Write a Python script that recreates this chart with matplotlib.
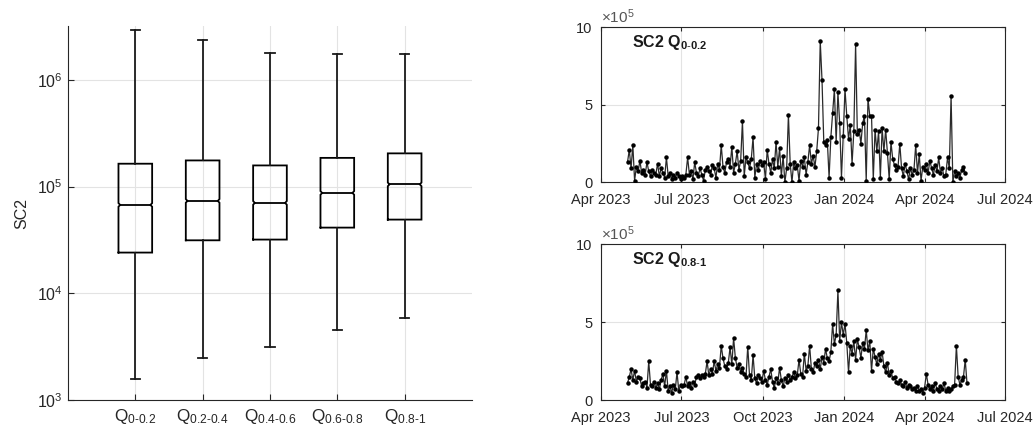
import numpy as np
import pandas as pd
import matplotlib
matplotlib.use('Agg')
import matplotlib.pyplot as plt
import matplotlib.dates as mdates
from matplotlib.ticker import FixedLocator, NullLocator

plt.rcParams['font.family'] = ['Liberation Sans', 'DejaVu Sans']
plt.rcParams['mathtext.fontset'] = 'custom'
plt.rcParams['mathtext.rm'] = 'Liberation Sans'
plt.rcParams['mathtext.it'] = 'Liberation Sans:italic'
plt.rcParams['mathtext.bf'] = 'Liberation Sans:bold'

# ---------------- data ----------------
group_labels = ['0-0.2', '0.2-0.4', '0.4-0.6', '0.6-0.8', '0.8-1']
whisker_lo = [1.56e3, 2.46e3, 3.16e3, 4.5e3, 5.9e3]
box_q1 = [2.41e4, 3.14e4, 3.19e4, 4.13e4, 4.91e4]
box_median = [6.74e4, 7.35e4, 7.04e4, 8.73e4, 1.05e5]
box_q3 = [1.64e5, 1.76e5, 1.58e5, 1.86e5, 2.05e5]
whisker_hi = [2.92e6, 2.37e6, 1.78e6, 1.74e6, 1.74e6]

series_start = '2023-05-01'   # sampled every 2 days
# SC2 Q0-0.2 (x 1e5)
q_low_vals = (
    [1.3, 2.1, 0.9, 2.4, 0.1, 1.0, 0.7, 1.4, 0.6, 0.8, 0.5, 1.3, 0.7, 0.4, 0.8, 0.6] +
    [0.5, 1.2, 0.4, 0.9, 0.6, 0.3, 1.6, 0.4, 0.6, 0.2, 0.5, 0.3, 0.6, 0.4, 0.2] +
    [0.4, 0.3, 0.5, 1.6, 0.5, 0.7, 0.2, 1.3, 0.6, 0.4, 0.9, 0.5, 0.1, 0.8, 1.0] +
    [0.7, 0.5, 1.1, 0.9, 0.3, 1.2, 0.8, 2.4, 1.0, 0.6, 1.3, 1.5, 1.0, 2.3, 0.6, 1.2] +
    [2.0, 0.8, 1.4, 3.95, 0.4, 1.6, 1.3, 0.9, 1.5, 2.9, 0.3, 1.2, 0.8, 1.4, 1.1] +
    [1.3, 0.2, 2.1, 1.2, 0.6, 1.5, 0.9, 2.6, 1.0, 2.2, 0.4, 1.7, 0.0, 0.9, 4.35] +
    [1.2, 0.0, 1.3, 0.9, 1.1, 0.1, 1.4, 1.0, 1.6, 0.5, 1.3, 2.4, 1.2, 1.7, 1.0] +
    [2.0, 3.5, 9.1, 6.6, 2.6, 2.4, 2.7, 0.3, 2.9, 4.5, 6.0, 2.6, 5.8, 3.8, 0.3, 3.0] +
    [6.0, 4.3, 2.8, 3.7, 1.2, 3.3, 8.9, 3.1, 3.4, 2.5, 3.8, 4.3, 0.1, 5.4, 4.3] +
    [4.3, 0.2, 3.4, 2.0, 3.3, 0.3, 3.5, 2.0, 3.4, 1.9, 0.2, 2.6, 1.5, 1.1, 0.8] +
    [1.0, 2.5, 0.9, 0.4, 1.2, 0.7, 0.2, 0.9, 0.5, 0.8, 2.4, 0.6, 1.8, 0.1, 1.0] +
    [0.8, 1.2, 0.6, 1.4, 0.9, 0.5, 1.1, 0.7, 1.6, 0.6, 0.9, 0.4, 0.5, 1.6, 0.9] +
    [5.6, 0.0, 0.7, 0.4, 0.6, 0.3, 0.8, 1.0, 0.6]
)
# SC2 Q0.8-1 (x 1e5)
q_high_vals = (
    [1.1, 1.5, 2.0, 1.3, 1.9, 1.2, 1.5, 1.4, 0.9, 1.1, 1.2, 0.8, 2.5, 1.0, 0.9, 1.2] +
    [0.8, 1.1, 0.7, 1.3, 1.7, 0.9, 1.9, 0.6, 0.9, 0.5, 1.0, 0.7, 1.8, 0.6, 1.0] +
    [0.9, 1.0, 1.5, 0.9, 1.1, 0.8, 1.2, 1.0, 1.5, 1.6, 1.4, 1.6, 1.5, 1.7, 2.5] +
    [1.6, 2.0, 1.7, 2.5, 1.9, 2.3, 2.1, 3.5, 2.7, 2.2, 2.0, 2.4, 3.4, 2.3, 4.0, 2.7] +
    [2.1, 2.3, 1.8, 2.1, 1.7, 1.5, 3.45, 1.6, 1.3, 2.9, 1.4, 1.1, 1.6, 1.4, 1.2] +
    [1.9, 1.3, 1.0, 1.5, 2.0, 1.2, 0.8, 1.4, 1.1, 2.1, 1.3, 0.9, 1.4, 1.2, 1.6] +
    [1.3, 1.5, 1.8, 1.4, 1.6, 2.6, 1.7, 1.5, 3.0, 1.9, 2.2, 3.5, 2.0, 1.8, 2.4] +
    [2.2, 2.6, 2.0, 2.8, 2.4, 3.3, 2.7, 2.5, 3.1, 4.9, 3.6, 4.2, 7.05, 3.8, 5.0, 4.2] +
    [4.9, 3.7, 1.8, 3.5, 3.0, 3.8, 2.6, 3.9, 3.4, 2.7, 3.7, 3.3, 4.5, 3.2, 3.8] +
    [1.9, 3.3, 2.8, 2.3, 3.0, 2.6, 3.1, 2.2, 1.8, 2.4, 1.6, 1.9, 1.4, 1.5, 1.2] +
    [1.1, 1.3, 1.0, 0.9, 1.2, 0.8, 1.0, 0.9, 0.7, 0.8, 0.6, 0.9, 0.6, 0.7, 0.5] +
    [0.8, 1.7, 1.0, 0.7, 0.9, 0.6, 1.1, 0.7, 0.6, 0.9, 0.7, 1.1, 0.6, 0.8, 0.6] +
    [0.7, 0.9, 1.0, 3.5, 1.5, 1.0, 1.3, 1.5, 2.6, 1.1]
)
quarter_ticks = ['2023-04-01', '2023-07-01', '2023-10-01', '2024-01-01',
                 '2024-04-01', '2024-07-01']

# ---------------- style ----------------
TXT = '#262626'
GRID = '#e3e3e3'
FS = 10.5

fig = plt.figure(figsize=(10.33, 4.34), dpi=100)

# ---------------- left: box plot ----------------
axL = fig.add_axes([0.0658, 0.0783, 0.3911, 0.8617])
axL.set_yscale('log')
half_w = 0.25
cap_w = 0.068
notch_f = 1.04
notch_d = 0.025
for i in range(len(group_labels)):
    p = i + 1
    lo, a, m, b, hi = whisker_lo[i], box_q1[i], box_median[i], box_q3[i], whisker_hi[i]
    xs = [p - half_w, p + half_w, p + half_w, p + half_w - notch_d, p + half_w,
          p + half_w, p - half_w, p - half_w, p - half_w + notch_d, p - half_w, p - half_w]
    ys = [a, a, m / notch_f, m, m * notch_f, b, b, m * notch_f, m, m / notch_f, a]
    axL.plot(xs, ys, color='k', lw=1.3, solid_joinstyle='miter', zorder=3)
    axL.plot([p - half_w + notch_d, p + half_w - notch_d], [m, m], color='k', lw=1.3, zorder=3)
    axL.plot([p, p], [b, hi], color='#1a1a1a', lw=1.3, zorder=3)
    axL.plot([p, p], [lo, a], color='#1a1a1a', lw=1.3, zorder=3)
    axL.plot([p - cap_w, p + cap_w], [hi, hi], color='#1a1a1a', lw=1.3, zorder=3)
    axL.plot([p - cap_w, p + cap_w], [lo, lo], color='#1a1a1a', lw=1.3, zorder=3)

axL.set_xlim(0, 6)
axL.set_ylim(1e3, 3.2e6)
axL.xaxis.set_major_locator(FixedLocator(range(1, len(group_labels) + 1)))
axL.set_xticklabels([r'$\mathregular{Q_{%s}}$' % g.replace('-', r'\text{-}') for g in group_labels],
                    fontsize=FS + 1.8, color=TXT)
axL.yaxis.set_major_locator(FixedLocator([1e3, 1e4, 1e5, 1e6]))
axL.yaxis.set_minor_locator(NullLocator())
axL.set_yticklabels([r'$\mathregular{10^{%d}}$' % k for k in [3, 4, 5, 6]], fontsize=FS + 1, color=TXT)
axL.set_ylabel('SC2', fontsize=FS + 1, color=TXT, labelpad=6)
axL.grid(True, color=GRID, lw=0.8, zorder=0)
axL.set_axisbelow(True)
for s in ['top', 'right']:
    axL.spines[s].set_visible(False)
for s in ['left', 'bottom']:
    axL.spines[s].set_color(TXT)
    axL.spines[s].set_linewidth(0.8)
axL.tick_params(direction='in', length=4, color=TXT, width=0.8, labelcolor=TXT)
axL.tick_params(axis='x', pad=5)


# ---------------- right: time series ----------------
def ts_panel(rect, vals, label):
    ax = fig.add_axes(rect)
    dates = pd.date_range(series_start, periods=len(vals), freq='2D')
    ax.plot(dates, vals, '-', color='#2a2a2a', lw=0.9, zorder=3)
    ax.plot(dates, vals, 'o', color='k', ms=2.2, zorder=4)
    ax.set_xlim(pd.Timestamp(quarter_ticks[0]), pd.Timestamp(quarter_ticks[-1]))
    ax.set_ylim(0, 10)
    ax.xaxis.set_major_locator(FixedLocator([mdates.date2num(pd.Timestamp(t)) for t in quarter_ticks]))
    ax.xaxis.set_major_formatter(mdates.DateFormatter('%b %Y'))
    ax.yaxis.set_major_locator(FixedLocator([0, 5, 10]))
    ax.set_yticklabels(['0', '5', '10'])
    ax.tick_params(direction='in', length=3, color=TXT, width=0.8, labelcolor=TXT,
                   labelsize=FS, top=True, right=True)
    ax.tick_params(axis='x', pad=8)
    ax.tick_params(axis='y', pad=6)
    ax.grid(True, color=GRID, lw=0.8, zorder=0)
    ax.set_axisbelow(True)
    for s in ax.spines.values():
        s.set_color(TXT)
        s.set_linewidth(0.8)
    ax.text(0.0, 1.01, r'$\mathregular{\times 10^{5}}$', transform=ax.transAxes,
            ha='left', va='bottom', fontsize=FS + 0.5, color='#555555')
    ax.text(0.076, 0.90, label, transform=ax.transAxes, ha='left', va='center',
            fontsize=FS + 1, fontweight='bold', color='#1a1a1a')
    return ax


ts_panel([0.5818, 0.580, 0.3911, 0.357], q_low_vals,
         r'SC2 $\mathbf{Q_{0\text{-}0.2}}$')
ts_panel([0.5818, 0.0776, 0.3911, 0.3594], q_high_vals,
         r'SC2 $\mathbf{Q_{0.8\text{-}1}}$')

fig.savefig('out.png', dpi=100)
